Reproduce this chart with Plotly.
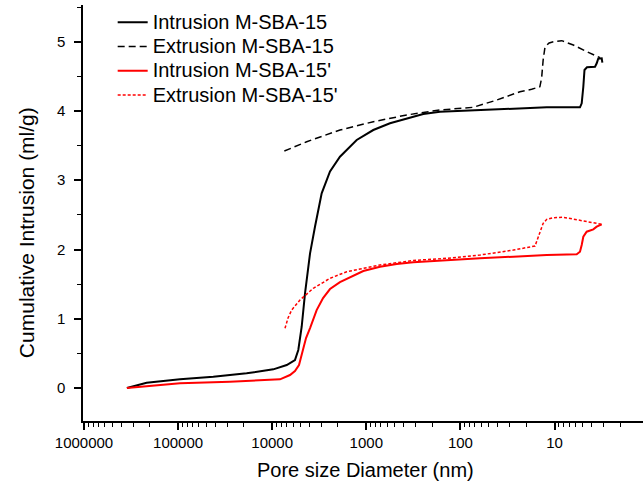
import plotly.graph_objects as go

# ---- data (pore diameter in nm, cumulative intrusion in ml/g) ----
int1_d = [350000, 216000, 95500, 42300, 18700, 9730, 7010, 5730, 5280, 4860, 4480, 3960, 3510,
          2980, 2430, 1905, 1265, 843, 560, 372, 248, 165, 93, 41, 25.2, 12.1, 5.36, 5.14, 4.94,
          4.80, 4.52, 3.71, 3.56, 3.43, 3.15, 3.10]
int1_v = [0.0, 0.077, 0.126, 0.163, 0.212, 0.27, 0.332, 0.404, 0.549, 0.885, 1.367, 1.945, 2.329,
          2.811, 3.126, 3.340, 3.581, 3.725, 3.822, 3.894, 3.956, 3.989, 4.004, 4.024, 4.038, 4.053,
          4.053, 4.111, 4.350, 4.591, 4.630, 4.639, 4.688, 4.755, 4.760, 4.697]

ext1_d = [7430, 4300, 1905, 843, 372, 165, 73, 41, 23.3, 17.5, 14.3, 13.7, 13.2, 12.6, 11.4,
          10.3, 8.38, 6.31, 4.46, 3.28]
ext1_v = [3.422, 3.556, 3.725, 3.845, 3.942, 4.014, 4.053, 4.158, 4.278, 4.313, 4.350, 4.476,
          4.736, 4.928, 4.981, 5.000, 5.015, 4.952, 4.851, 4.769]

int2_d = [350000, 95500, 28100, 8260, 6470, 5730, 5190, 4880, 4670, 4370, 3960, 3370, 2880, 2430,
          1905, 1490, 1076, 715, 475, 317, 140, 62, 27.4, 12.1, 5.81, 5.36, 5.14, 4.94, 4.55, 3.87,
          3.56, 3.15]
int2_v = [0.0, 0.068, 0.091, 0.126, 0.188, 0.245, 0.332, 0.462, 0.578, 0.722, 0.866, 1.126, 1.299,
          1.429, 1.530, 1.603, 1.689, 1.751, 1.790, 1.815, 1.848, 1.873, 1.896, 1.920, 1.930, 1.968,
          2.065, 2.185, 2.257, 2.291, 2.329, 2.364]

ext2_d = [7310, 6790, 6210, 5070, 3660, 2430, 1615, 715, 317, 140, 62, 27.4, 16.1, 14.9, 13.2,
          12.1, 10.4, 8.06, 5.36, 3.15]
ext2_v = [0.862, 1.011, 1.126, 1.271, 1.440, 1.584, 1.679, 1.776, 1.841, 1.873, 1.920, 1.992,
          2.050, 2.185, 2.378, 2.436, 2.459, 2.465, 2.426, 2.364]

series_names = ["Intrusion M-SBA-15", "Extrusion M-SBA-15",
                "Intrusion M-SBA-15'", "Extrusion M-SBA-15'"]

x_tick_vals = [1000000, 100000, 10000, 1000, 100, 10]
x_tick_text = ["1000000", "100000", "10000", "1000", "100", "10"]
y_tick_vals = [0, 1, 2, 3, 4, 5]

FONT = "Liberation Sans, Arial, sans-serif"
TICK_SIZE = 15

fig = go.Figure()
styles = [
    dict(color="#000000", width=2, dash="solid"),
    dict(color="#000000", width=1.5, dash="7px,4px"),
    dict(color="#ff0000", width=2, dash="solid"),
    dict(color="#ff0000", width=1.5, dash="3px,2px"),
]
for (xd, yd), name, st in zip([(int1_d, int1_v), (ext1_d, ext1_v), (int2_d, int2_v), (ext2_d, ext2_v)],
                               series_names, styles):
    fig.add_trace(go.Scatter(x=xd, y=yd, mode="lines", line=st, legendgroup=name,
                             name='<span style="font-size:20px">' + name + '</span>'))

minor_vals = [m * 10 ** e for e in range(0, 6) for m in range(2, 10)]

fig.update_layout(
    template="none",
    width=644, height=486,
    margin=dict(l=83, r=1, t=5, b=65, pad=0),
    paper_bgcolor="white", plot_bgcolor="white",
    font=dict(family=FONT, color="#000000"),
    showlegend=True,
    legend=dict(x=0.053, y=1.0, xanchor="left", yanchor="top", bgcolor="rgba(0,0,0,0)",
                borderwidth=0,
                font=dict(size=16.4, family=FONT), traceorder="grouped", tracegroupgap=0),
    xaxis=dict(type="log", range=[6.0106, 0.0595], autorange=False, automargin=False,
               showline=True, linecolor="#000", linewidth=1.5, showgrid=False, zeroline=False,
               ticks="outside", ticklen=7, tickwidth=1.5, tickcolor="#000",
               tickmode="array", tickvals=x_tick_vals, ticktext=x_tick_text,
               tickfont=dict(size=TICK_SIZE, family=FONT),
               minor=dict(tickmode="array", tickvals=minor_vals, ticks="outside", ticklen=4,
                          tickwidth=1.2, tickcolor="#000", showgrid=False)),
    yaxis=dict(range=[-0.476, 5.53], autorange=False, automargin=False,
               showline=True, linecolor="#000", linewidth=1.5, showgrid=False, zeroline=False,
               ticks="outside", ticklen=7, tickwidth=1.5, tickcolor="#000",
               tickmode="array", tickvals=y_tick_vals, ticklabelstandoff=6,
               tickfont=dict(size=TICK_SIZE, family=FONT),
               minor=dict(dtick=0.5, ticks="outside", ticklen=4, tickwidth=1.2,
                          tickcolor="#000", showgrid=False)),
    annotations=[
        dict(text="Cumulative Intrusion (ml/g)", xref="paper", yref="paper",
             x=-0.1018, y=0.454, xanchor="center", yanchor="middle", textangle=-90,
             showarrow=False, font=dict(size=21, family=FONT)),
        dict(text="Pore size Diameter (nm)", xref="paper", yref="paper",
             x=0.5045, y=-0.118, xanchor="center", yanchor="middle",
             showarrow=False, font=dict(size=20, family=FONT)),
    ],
)

fig.write_html("out.html")
